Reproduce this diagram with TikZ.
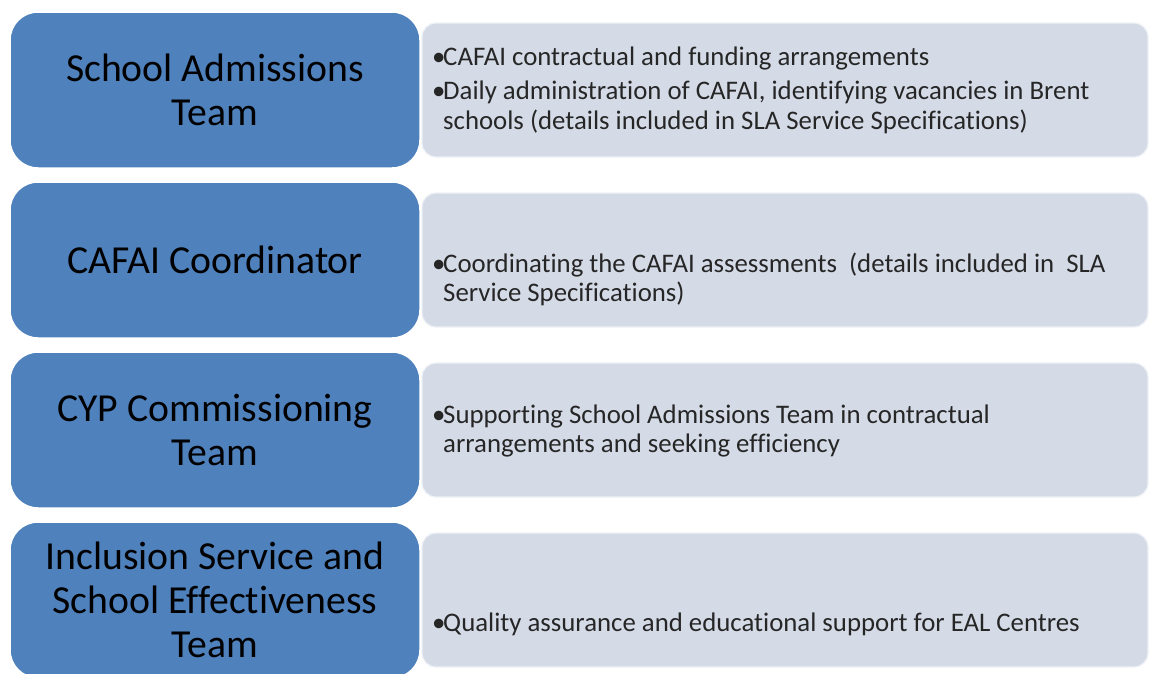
\documentclass[tikz,border=0pt]{standalone}
\usepackage{fontspec}
\setmainfont{Carlito}[RawFeature={-liga}]
\definecolor{boxblue}{HTML}{4F81BD}
\definecolor{boxgray}{HTML}{D4DBE7}
\definecolor{txtgray}{HTML}{262626}
\newcommand\itembul{\makebox[11pt][l]{•}}
\begin{document}
\begin{tikzpicture}[x=1pt,y=-1pt,
  bluebox/.style={fill=boxblue, draw=white, line width=1.5pt, rounded corners=28pt,
    minimum width=410pt, minimum height=156pt, inner sep=0pt, align=center,
    font=\fontsize{39.7}{44}\selectfont, text=black},
  graybox/.style={fill=boxgray, draw=boxgray!40!white, line width=1.2pt, rounded corners=14pt,
    minimum width=726pt, minimum height=134pt, inner sep=0pt},
  desc/.style={anchor=base west, inner sep=0pt, font=\fontsize{26.8}{29.5}\selectfont, text=txtgray}]
\useasboundingbox (0,0) rectangle (1149,673);
\clip (0,0) rectangle (1149,673);
% gray description boxes
\node[graybox] (g1) at (785,90) {};
\node[graybox] (g2) at (785,260) {};
\node[graybox] (g3) at (785,430) {};
\node[graybox] (g4) at (785,600) {};
% blue title boxes
\node[bluebox] (b1) at (215,90) {School Admissions\\Team};
\node[bluebox] (b2) at (215,260) {CAFAI Coordinator};
\node[bluebox] (b3) at (215,430) {CYP Commissioning\\Team};
\node[bluebox] (b4) at (215,600) {Inclusion Service and\\School Effectiveness\\Team};
% descriptions
\node[desc] (d1) at (432,65.5) {\begin{tabular}[t]{@{}l@{}l@{}}\itembul&CAFAI contractual and funding arrangements\\[4.5pt]
\itembul&Daily administration of CAFAI, identifying vacancies in Brent\\
&schools (details included in SLA Service Specifications)\end{tabular}};
\node[desc] (d2) at (432,272) {\begin{tabular}[t]{@{}l@{}l@{}}\itembul&Coordinating the CAFAI assessments\ \ (details included in\ \ SLA\\
&Service Specifications)\end{tabular}};
\node[desc] (d3) at (432,423) {\begin{tabular}[t]{@{}l@{}l@{}}\itembul&Supporting School Admissions Team in contractual\\
&arrangements and seeking efficiency\end{tabular}};
\node[desc] (d4) at (432,631) {\begin{tabular}[t]{@{}l@{}l@{}}\itembul&Quality assurance and educational support for EAL Centres\end{tabular}};
\end{tikzpicture}
\end{document}
